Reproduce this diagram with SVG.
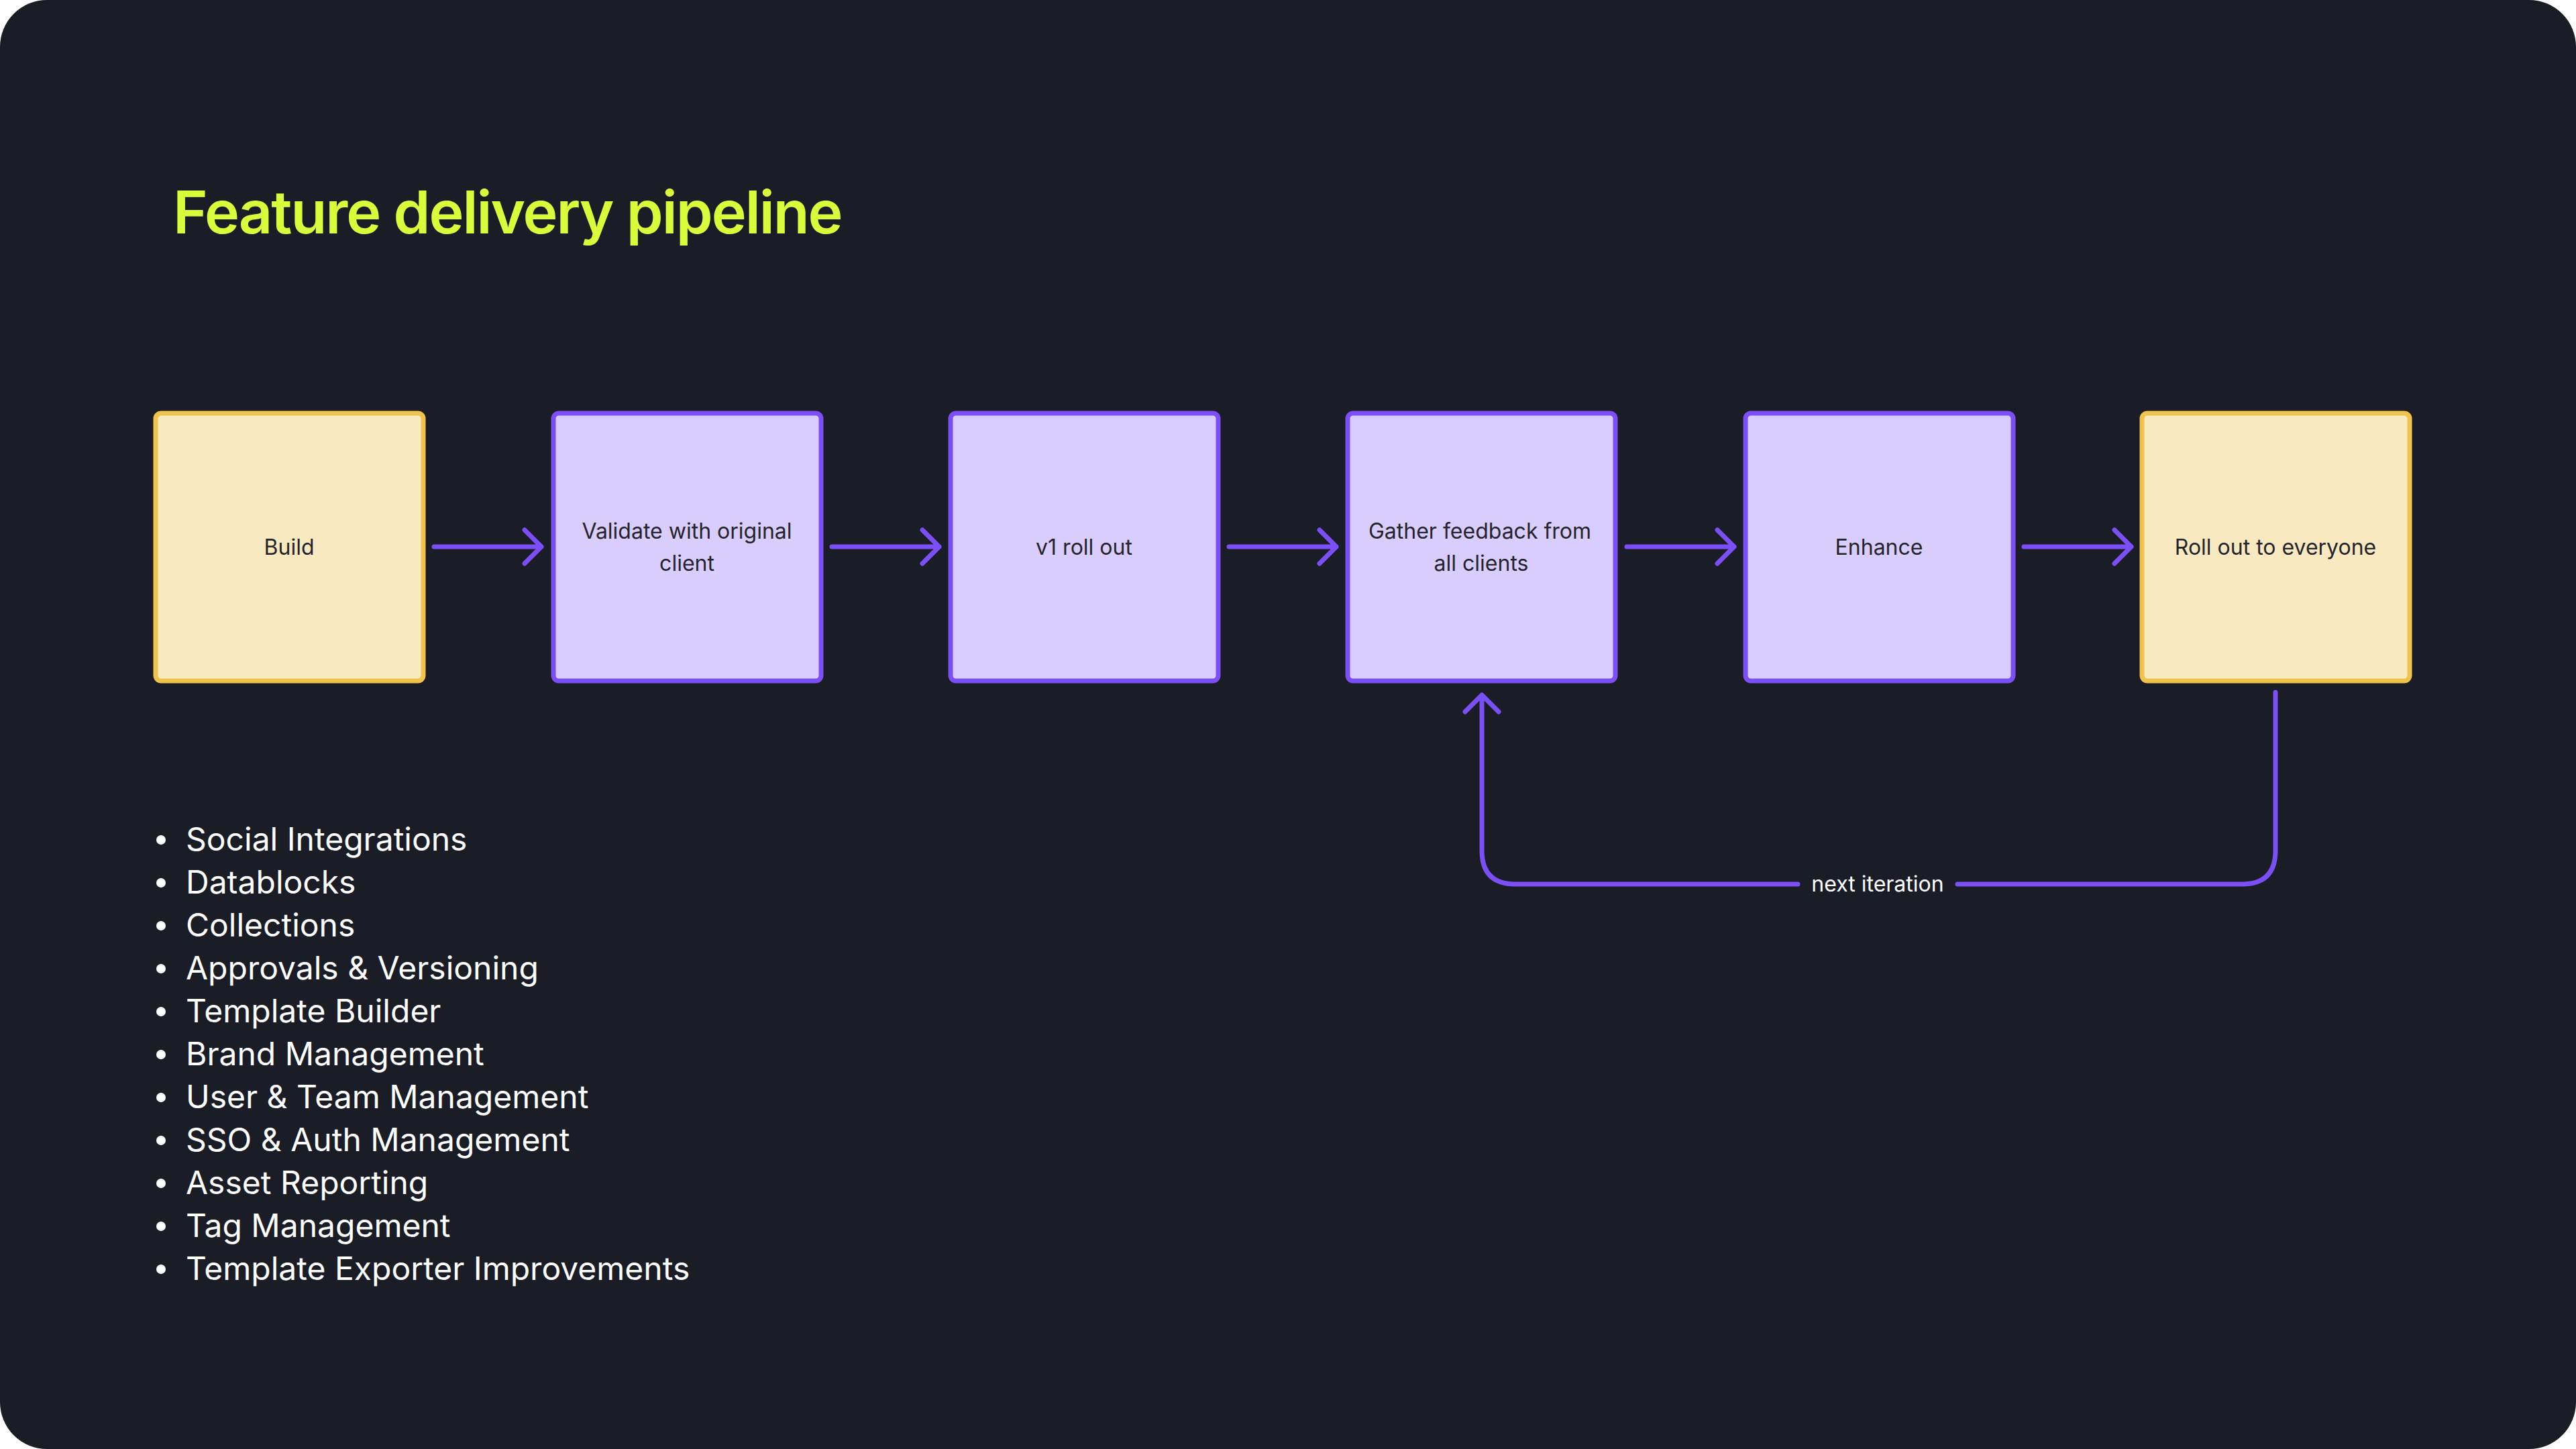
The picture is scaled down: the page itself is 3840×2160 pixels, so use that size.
<svg xmlns="http://www.w3.org/2000/svg" width="3840" height="2160" viewBox="0 0 3840 2160">
<style>
.y{fill:#f8e9c0;stroke:#f0c44c;stroke-width:7}
.p{fill:#d8cdfc;stroke:#7a4ff5;stroke-width:7}
.l{font-family:Inter,"Liberation Sans",sans-serif;font-size:32px;fill:#25242a;text-anchor:middle}
.c{fill:none;stroke:#7a4ff5;stroke-width:7;stroke-linecap:round;stroke-linejoin:round}
.b{font-family:Inter,"Liberation Sans",sans-serif;font-size:48px;fill:#ffffff}
</style>
<rect x="0" y="0" width="3840" height="2160" rx="70" fill="#1b1d26"/>
<text x="258" y="348" font-family="Inter,'Liberation Sans',sans-serif" font-weight="600" font-size="88" fill="#d9fb3a" letter-spacing="-2">Feature delivery pipeline</text>
<g id="n1"><rect class="y" x="232" y="616" width="399" height="399" rx="8"/><text class="l" x="431" y="827">Build</text></g>
<g id="n2"><rect class="p" x="825" y="616" width="399" height="399" rx="8"/><text class="l" x="1024" y="803">Validate with original</text><text class="l" x="1024" y="851">client</text></g>
<g id="n3"><rect class="p" x="1417" y="616" width="399" height="399" rx="8"/><text class="l" x="1616" y="827">v1 roll out</text></g>
<g id="n4"><rect class="p" x="2009" y="616" width="399" height="399" rx="8"/><text class="l" x="2206" y="803">Gather feedback from</text><text class="l" x="2208" y="851">all clients</text></g>
<g id="n5"><rect class="p" x="2602" y="616" width="399" height="399" rx="8"/><text class="l" x="2801" y="827">Enhance</text></g>
<g id="n6"><rect class="y" x="3193" y="616" width="399" height="399" rx="8"/><text class="l" x="3392" y="827">Roll out to everyone</text></g>
<g id="connectors">
<path class="c" d="M647 815H807M782 790L807 815L782 840"/>
<path class="c" d="M1240 815H1400M1375 790L1400 815L1375 840"/>
<path class="c" d="M1832 815H1992M1967 790L1992 815L1967 840"/>
<path class="c" d="M2425 815H2585M2560 790L2585 815L2560 840"/>
<path class="c" d="M3017 815H3177M3152 790L3177 815L3152 840"/>
<path class="c" d="M3392 1032V1268Q3392 1318 3342 1318H2918M2680 1318H2259Q2209 1318 2209 1268V1036M2184 1061L2209 1036L2234 1061"/>
<text class="l" x="2799" y="1329" fill="#ffffff" style="fill:#fff">next iteration</text>
</g>
<g id="list" class="b">
<circle cx="240" cy="1252" r="7" fill="#fff"/><text x="277" y="1268">Social Integrations</text>
<circle cx="240" cy="1316" r="7" fill="#fff"/><text x="277" y="1332">Datablocks</text>
<circle cx="240" cy="1380" r="7" fill="#fff"/><text x="277" y="1396">Collections</text>
<circle cx="240" cy="1444" r="7" fill="#fff"/><text x="277" y="1460">Approvals &amp; Versioning</text>
<circle cx="240" cy="1508" r="7" fill="#fff"/><text x="277" y="1524">Template Builder</text>
<circle cx="240" cy="1572" r="7" fill="#fff"/><text x="277" y="1588">Brand Management</text>
<circle cx="240" cy="1636" r="7" fill="#fff"/><text x="277" y="1652">User &amp; Team Management</text>
<circle cx="240" cy="1700" r="7" fill="#fff"/><text x="277" y="1716">SSO &amp; Auth Management</text>
<circle cx="240" cy="1764" r="7" fill="#fff"/><text x="277" y="1780">Asset Reporting</text>
<circle cx="240" cy="1828" r="7" fill="#fff"/><text x="277" y="1844">Tag Management</text>
<circle cx="240" cy="1892" r="7" fill="#fff"/><text x="277" y="1908">Template Exporter Improvements</text>
</g>
</svg>
